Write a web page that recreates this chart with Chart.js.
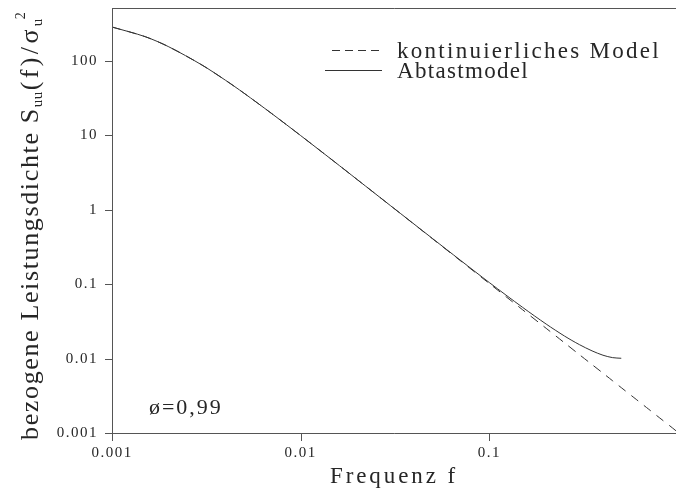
<!DOCTYPE html>
<html>
<head>
<meta charset="utf-8">
<script src="https://cdn.jsdelivr.net/npm/chart.js@4.4.1/dist/chart.umd.min.js"></script>
<style>
    html, body { margin: 0; padding: 0; background: #fff; }
    #wrap { width: 676px; height: 494px; }
</style>
</head>
<body>
<div id="wrap"><canvas id="chart"></canvas></div>
<script>
// values (log-log)
const freq = [0.001, 0.0015, 0.002, 0.003, 0.004, 0.005, 0.007, 0.01, 0.015, 0.02, 0.03, 0.05, 0.07,
    0.1, 0.15, 0.2, 0.25, 0.3, 0.35, 0.4, 0.45, 0.5, 0.6, 0.7, 0.8, 0.9, 0.975];
const contModel = [286, 212, 155, 88.1, 54.9, 37.0, 19.75, 9.93, 4.48, 2.53, 1.13, 0.407, 0.208,
    0.102, 0.0453, 0.0255, 0.0163, 0.0113, 0.00831, 0.00637, 0.00503, 0.00407, 0.00283, 0.00208, 0.00159, 0.00126, 0.00107];
// sampled model stops at f = 0.5
const sampledModel = [286, 212, 155, 88.1, 54.9, 37.0, 19.75, 9.93, 4.48, 2.53, 1.13, 0.410, 0.211,
    0.105, 0.0488, 0.0291, 0.0201, 0.0154, 0.0127, 0.0111, 0.0103, 0.0101];

const seriesLabels = ['kontinuierliches Model', 'Abtastmodel'];
const xTickValues = [0.001, 0.01, 0.1];
const xTickLabels = ['0.001', '0.01', '0.1'];
const yTickValues = [0.001, 0.01, 0.1, 1, 10, 100];
const yTickLabels = ['0.001', '0.01', '0.1', '1', '10', '100'];
const xTitle = 'Frequenz f';
const phiText = 'ø=0,99';

const X_MIN = 0.001, X_MAX = 0.975, Y_MIN = 0.001, Y_MAX = 515;
const FONT = '"Liberation Serif", "DejaVu Serif", serif';
const INK = '#262626', AXIS = '#555';

function withMinors(majors, max) {
    let out = [];
    majors.forEach(d => {
        out.push(d);
        for (let k = 2; k <= 9; k++) {
            const v = parseFloat((d * k).toPrecision(6));
            if (v <= max) out.push(v);
        }
    });
    return out;
}

const toPoints = (ys) => ys.map((v, i) => ({ x: freq[i], y: v }));

// old plotter font is evenly spaced: spread a serif face to a fixed advance
function monoText(ctx, text, x, y, size, adv) {
    ctx.font = size + 'px ' + FONT;
    ctx.letterSpacing = '0px';
    const w = ctx.measureText(text).width;
    const ls = (text.length * adv - w) / text.length;
    ctx.letterSpacing = ls + 'px';
    ctx.fillText(text, x, y);
    ctx.letterSpacing = '0px';
    return x + text.length * adv;
}

const decor = {
    id: 'decor',
    beforeDraw(chart) {
        chart.ctx.letterSpacing = '1.5px';   // tick labels
    },
    afterDraw(chart) {
        const { ctx, chartArea: a, scales: { x, y } } = chart;
        ctx.save();
        ctx.letterSpacing = '0px';
        ctx.strokeStyle = AXIS;
        ctx.lineWidth = 1;
        ctx.beginPath();
        // frame: top, left, bottom
        ctx.moveTo(a.left + 0.5, a.top + 0.5);
        ctx.lineTo(a.right, a.top + 0.5);
        ctx.moveTo(a.left + 0.5, a.top);
        ctx.lineTo(a.left + 0.5, a.bottom + 0.5);
        ctx.lineTo(a.right, a.bottom + 0.5);
        x.ticks.forEach(t => {
            const px = Math.round(x.getPixelForValue(t.value)) + 0.5;
            const len = xTickValues.includes(t.value) ? 8 : 5;
            ctx.moveTo(px, a.bottom);
            ctx.lineTo(px, a.bottom + len);
        });
        y.ticks.forEach(t => {
            const py = Math.round(y.getPixelForValue(t.value)) + 0.5;
            const len = yTickValues.includes(t.value) ? 7 : 5;
            ctx.moveTo(a.left, py);
            ctx.lineTo(a.left - len, py);
        });
        ctx.stroke();

        ctx.fillStyle = INK;
        ctx.textBaseline = 'alphabetic';
        ctx.textAlign = 'left';

        // legend, inside the plot, top right
        chart.data.datasets.forEach((ds, i) => {
            const ly = 50 + i * 20;
            ctx.strokeStyle = ds.borderColor;
            ctx.lineWidth = 1;
            ctx.setLineDash(i === 0 ? [8, 5] : []);
            ctx.beginPath();
            ctx.moveTo(i === 0 ? 332 : 325, ly + 0.5);
            ctx.lineTo(382, ly + 0.5);
            ctx.stroke();
            ctx.setLineDash([]);
            monoText(ctx, ds.label, 397, ly + 7.5, 23, 12);
        });

        // parameter note
        monoText(ctx, phiText, 149, 414, 22, 12.3);

        // x title
        const xw = xTitle.length * 12.8;
        monoText(ctx, xTitle, (a.left + a.right) / 2 - xw / 2, 483, 23, 12.8);

        // y title with sub/superscripts
        ctx.translate(38, 440);
        ctx.rotate(-Math.PI / 2);
        let p = monoText(ctx, 'bezogene Leistungsdichte S', 0, 0, 26, 12.8);
        p = monoText(ctx, 'uu', p, 4, 15, 8);
        p = monoText(ctx, '(f)/σ', p + 1, 0, 26, 12.8);
        p = monoText(ctx, 'u', p, 4, 15, 8);
        monoText(ctx, '2', p - 1, -13, 14, 8);
        ctx.restore();
    }
};

new Chart(document.getElementById('chart'), {
    type: 'line',
    data: {
        datasets: [
            {
                label: seriesLabels[0],
                data: toPoints(contModel),
                borderColor: '#333',
                borderWidth: 1,
                borderDash: [9, 7],
                pointRadius: 0,
                fill: false
            },
            {
                label: seriesLabels[1],
                data: toPoints(sampledModel),
                borderColor: '#333',
                borderWidth: 1,
                pointRadius: 0,
                fill: false
            }
        ]
    },
    options: {
        animation: false,
        responsive: true,
        maintainAspectRatio: false,
        devicePixelRatio: 1,
        layout: { padding: { top: 8, right: 0, left: 0, bottom: 0 } },
        plugins: { legend: { display: false }, tooltip: { enabled: false } },
        elements: { line: { tension: 0.3 } },
        scales: {
            x: {
                type: 'logarithmic',
                min: X_MIN,
                max: X_MAX,
                afterFit: (s) => { s.height = 61; s.paddingLeft = 0; s.paddingRight = 0; },
                afterBuildTicks: (s) => { s.ticks = withMinors(xTickValues, X_MAX).map(v => ({ value: v })); },
                grid: { display: false, drawTicks: false },
                border: { display: false },
                ticks: {
                    autoSkip: false,
                    maxRotation: 0,
                    padding: 11,
                    color: INK,
                    font: { family: FONT, size: 15 },
                    callback: (v) => {
                        const i = xTickValues.indexOf(v);
                        return i >= 0 ? xTickLabels[i] : null;
                    }
                }
            },
            y: {
                type: 'logarithmic',
                min: Y_MIN,
                max: Y_MAX,
                afterFit: (s) => { s.width = 112; s.paddingTop = 0; s.paddingBottom = 0; },
                afterBuildTicks: (s) => { s.ticks = withMinors(yTickValues, Y_MAX).map(v => ({ value: v })); },
                grid: { display: false, drawTicks: false },
                border: { display: false },
                ticks: {
                    autoSkip: false,
                    padding: 14,
                    color: INK,
                    font: { family: FONT, size: 15 },
                    callback: (v) => {
                        const i = yTickValues.indexOf(v);
                        return i >= 0 ? yTickLabels[i] : null;
                    }
                }
            }
        }
    },
    plugins: [decor]
});
</script>
</body>
</html>
